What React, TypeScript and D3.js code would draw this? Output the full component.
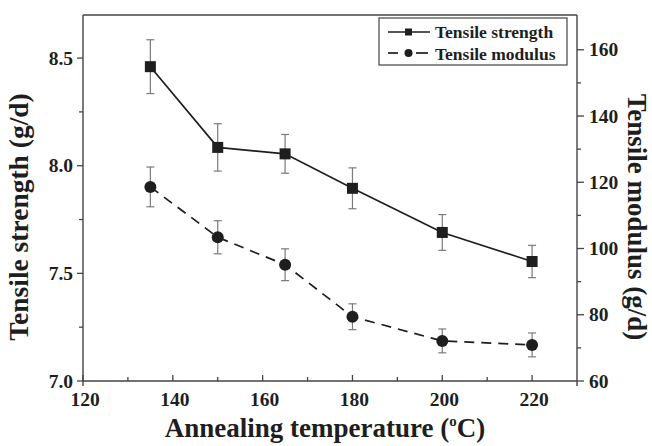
import React from "react";
import * as d3 from "d3";

const temps = [135, 150, 165, 180, 200, 220];
const strength = [8.46, 8.085, 8.055, 7.895, 7.69, 7.555];
const strengthErr = [0.125, 0.11, 0.09, 0.095, 0.083, 0.075];
const modulus = [118.6, 103.4, 95.1, 79.4, 72.1, 70.9];
const modulusErr = [6, 5, 4.8, 3.9, 3.6, 3.6];
const xTicks = [120, 140, 160, 180, 200, 220];
const xMinor = [130, 150, 170, 190, 210];
const yLeftTicks = [7.0, 7.5, 8.0, 8.5];
const yLeftMinor = [7.25, 7.75, 8.25];
const yRightTicks = [60, 80, 100, 120, 140, 160];
const yRightMinor = [70, 90, 110, 130, 150];

const W = 652, H = 446;
const L = 83, R = 577, T = 15, B = 381;
const FONT = "'Liberation Serif', 'Times New Roman', serif";
const INK = "#1e1e1e";
const AXIS = "#444";
const GRAY = "#7a7a7a";
const TICK_FS = 19.5;

export default function App() {
  const x = d3.scaleLinear().domain([120, 230]).range([L, R]);
  const yL = d3.scaleLinear().domain([7.0, 8.7]).range([B, T]);
  const yR = d3.scaleLinear().domain([60, 170.5]).range([B, T]);
  const lineS = d3.line<number>().x((_, i) => x(temps[i])).y((d) => yL(d));
  const lineM = d3.line<number>().x((_, i) => x(temps[i])).y((d) => yR(d));

  return (
    <svg width={W} height={H} style={{ position: "absolute", left: 0, top: 0, background: "#fff" }}>
      <rect x={0} y={0} width={W} height={H} fill="#fff" />
      {/* frame */}
      <line x1={L} x2={R} y1={T} y2={T} stroke={AXIS} strokeWidth={1.4} />
      <line x1={L} x2={R} y1={B} y2={B} stroke={AXIS} strokeWidth={1.4} />
      <line x1={L} x2={L} y1={T} y2={B + 5} stroke={AXIS} strokeWidth={1.4} />
      <line x1={R} x2={R} y1={T} y2={B + 5} stroke={AXIS} strokeWidth={1.4} />
      {/* bottom ticks */}
      {xTicks.map((t) => (
        <g key={"xt" + t}>
          <line x1={x(t)} x2={x(t)} y1={B} y2={B - 6} stroke={AXIS} strokeWidth={1.3} />
          <text x={x(t) + 2} y={B + 25} textAnchor="middle" fontFamily={FONT} fontWeight="bold" fontSize={TICK_FS} fill={INK}>{t}</text>
        </g>
      ))}
      {xMinor.map((t) => (
        <line key={"xm" + t} x1={x(t)} x2={x(t)} y1={B} y2={B - 4} stroke={AXIS} strokeWidth={1.3} />
      ))}
      {/* left ticks */}
      {yLeftTicks.map((t) => (
        <g key={"yl" + t}>
          <line x1={L} x2={L - 6} y1={yL(t)} y2={yL(t)} stroke={AXIS} strokeWidth={1.3} />
          <text x={L - 10} y={yL(t) + 6.5} textAnchor="end" fontFamily={FONT} fontWeight="bold" fontSize={TICK_FS} fill={INK}>{t.toFixed(1)}</text>
        </g>
      ))}
      {yLeftMinor.map((t) => (
        <line key={"ylm" + t} x1={L} x2={L - 4} y1={yL(t)} y2={yL(t)} stroke={AXIS} strokeWidth={1.3} />
      ))}
      {/* right ticks */}
      {yRightTicks.map((t) => (
        <g key={"yr" + t}>
          <line x1={R} x2={R + 7} y1={yR(t)} y2={yR(t)} stroke={AXIS} strokeWidth={1.3} />
          <text x={R + 12} y={yR(t) + 6.5} textAnchor="start" fontFamily={FONT} fontWeight="bold" fontSize={TICK_FS} fill={INK}>{t}</text>
        </g>
      ))}
      {yRightMinor.map((t) => (
        <line key={"yrm" + t} x1={R} x2={R + 4} y1={yR(t)} y2={yR(t)} stroke={AXIS} strokeWidth={1.3} />
      ))}
      {/* error bars */}
      {temps.map((t, i) => (
        <g key={"es" + t} stroke={GRAY} strokeWidth={1.2}>
          <line x1={x(t)} x2={x(t)} y1={yL(strength[i] + strengthErr[i])} y2={yL(strength[i] - strengthErr[i])} />
          <line x1={x(t) - 4} x2={x(t) + 4} y1={yL(strength[i] + strengthErr[i])} y2={yL(strength[i] + strengthErr[i])} />
          <line x1={x(t) - 4} x2={x(t) + 4} y1={yL(strength[i] - strengthErr[i])} y2={yL(strength[i] - strengthErr[i])} />
        </g>
      ))}
      {temps.map((t, i) => (
        <g key={"em" + t} stroke={GRAY} strokeWidth={1.2}>
          <line x1={x(t)} x2={x(t)} y1={yR(modulus[i] + modulusErr[i])} y2={yR(modulus[i] - modulusErr[i])} />
          <line x1={x(t) - 4} x2={x(t) + 4} y1={yR(modulus[i] + modulusErr[i])} y2={yR(modulus[i] + modulusErr[i])} />
          <line x1={x(t) - 4} x2={x(t) + 4} y1={yR(modulus[i] - modulusErr[i])} y2={yR(modulus[i] - modulusErr[i])} />
        </g>
      ))}
      {/* lines */}
      <path d={lineS(strength) || ""} fill="none" stroke={INK} strokeWidth={1.7} />
      <path d={lineM(modulus) || ""} fill="none" stroke={INK} strokeWidth={1.7} strokeDasharray="10,7" />
      {/* markers */}
      {temps.map((t, i) => (
        <rect key={"ms" + t} x={x(t) - 5.5} y={yL(strength[i]) - 5.5} width={11} height={11} fill={INK} />
      ))}
      {temps.map((t, i) => (
        <circle key={"mm" + t} cx={x(t)} cy={yR(modulus[i])} r={6} fill={INK} />
      ))}
      {/* legend */}
      <rect x={379} y={18} width={188} height={47} fill="#fff" stroke={AXIS} strokeWidth={1.2} />
      <line x1={388} x2={430} y1={32} y2={32} stroke={INK} strokeWidth={1.7} />
      <rect x={405} y={28.5} width={7} height={7} fill={INK} />
      <text x={435} y={38} fontFamily={FONT} fontWeight="bold" fontSize={17.5} fill={INK}>Tensile strength</text>
      <line x1={388} x2={398} y1={53} y2={53} stroke={INK} strokeWidth={1.7} />
      <line x1={416} x2={428} y1={53} y2={53} stroke={INK} strokeWidth={1.7} />
      <circle cx={408.5} cy={53} r={4} fill={INK} />
      <text x={435} y={60} fontFamily={FONT} fontWeight="bold" fontSize={17.5} fill={INK}>Tensile modulus</text>
      {/* axis titles */}
      <text x={325} y={437} textAnchor="middle" fontFamily={FONT} fontWeight="bold" fontSize={27} fill={INK}>
        Annealing temperature (<tspan dy={-11} fontSize={15}>o</tspan><tspan dy={11}>C)</tspan>
      </text>
      <text transform={`translate(28, 217) rotate(-90)`} textAnchor="middle" fontFamily={FONT} fontWeight="bold" fontSize={27.5} fill={INK}>
        Tensile strength (g/d)
      </text>
      <text transform={`translate(628, 217) rotate(90)`} textAnchor="middle" fontFamily={FONT} fontWeight="bold" fontSize={27} fill={INK}>
        Tensile modulus (g/d)
      </text>
    </svg>
  );
}
